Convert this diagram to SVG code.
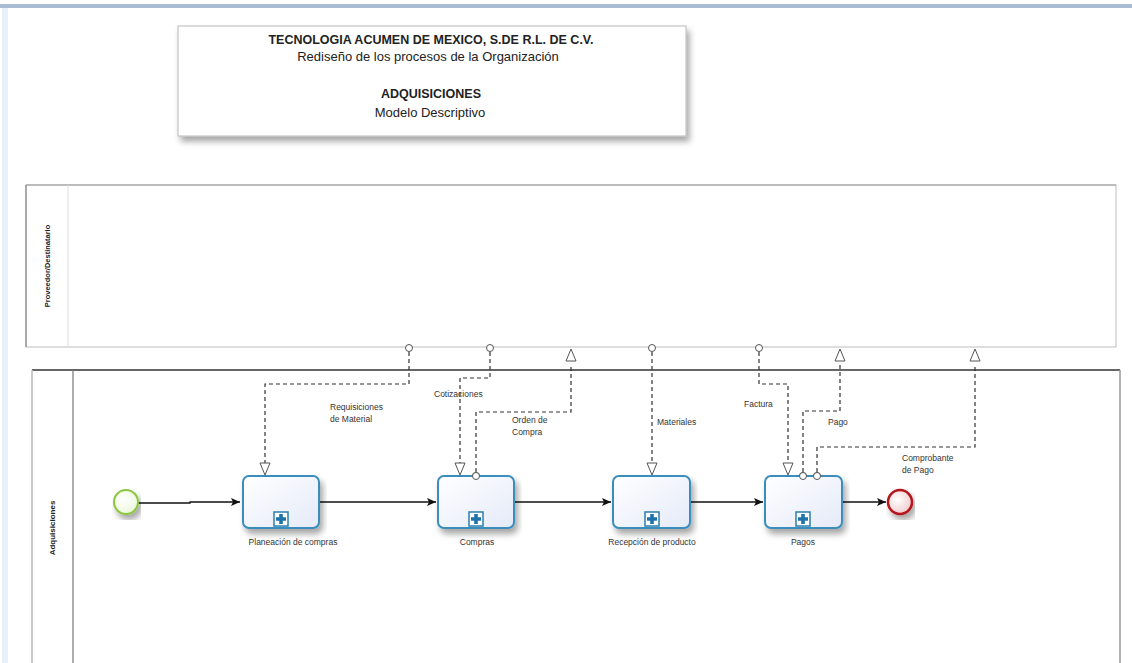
<svg xmlns="http://www.w3.org/2000/svg" width="1132" height="663" viewBox="0 0 1132 663">
<style>
.t{font-family:"Liberation Sans",Arial,sans-serif;fill:#222}
.s{font-family:"Liberation Sans",Arial,sans-serif;font-size:8.5px;fill:#333}
.task{fill:url(#tg);stroke:#3b8dbd;stroke-width:2}
.seq{fill:none;stroke:#111;stroke-width:1.3;marker-end:url(#ah)}
.msg{fill:none;stroke:#333;stroke-width:1.2;stroke-dasharray:4,3}
.circ{fill:#fff;stroke:#555;stroke-width:1}
.tri{fill:#fff;stroke:#555;stroke-width:1}
</style>
<defs>
<linearGradient id="tg" x1="0" y1="0" x2="1" y2="1"><stop offset="0" stop-color="#ffffff"/><stop offset="1" stop-color="#e4eaf8"/></linearGradient>
<radialGradient id="sg" cx="0.4" cy="0.4" r="0.7"><stop offset="0" stop-color="#ffffff"/><stop offset="1" stop-color="#eaf6d8"/></radialGradient>
<radialGradient id="eg" cx="0.4" cy="0.4" r="0.7"><stop offset="0" stop-color="#ffffff"/><stop offset="1" stop-color="#f0c6c8"/></radialGradient>
<marker id="ah" markerWidth="10" markerHeight="10" refX="9" refY="5" orient="auto" markerUnits="userSpaceOnUse"><path d="M0,1 L9,5 L0,9 L2,5 Z" fill="#111"/></marker>
<filter id="sh" x="-5%" y="-5%" width="115%" height="130%"><feDropShadow dx="3" dy="5" stdDeviation="3" flood-color="#000" flood-opacity="0.35"/></filter>
<g id="plus"><rect x="-7" y="-7" width="14" height="14" fill="#fff" stroke="#2a7fb0" stroke-width="1.5"/><path d="M-1.8,-5 h3.6 v3.2 h3.2 v3.6 h-3.2 v3.2 h-3.6 v-3.2 h-3.2 v-3.6 h3.2 z" fill="#1f73a8"/></g>
</defs>
<rect width="1132" height="663" fill="#fff"/>
<rect x="0" y="4" width="1132" height="4" fill="#aabbd4"/>
<rect x="2" y="8" width="6" height="655" fill="#eaf0f8"/>

<g id="title">
<rect x="178" y="26" width="508" height="110" fill="#fff" stroke="#b8b8b8" stroke-width="1" filter="url(#sh)"/>
<text class="t" x="431" y="44" text-anchor="middle" font-size="12.5" font-weight="bold">TECNOLOGIA ACUMEN DE MEXICO, S.DE R.L. DE C.V.</text>
<text class="t" x="428" y="61" text-anchor="middle" font-size="13">Rediseño de los procesos de la Organización</text>
<text class="t" x="431" y="98" text-anchor="middle" font-size="12.5" font-weight="bold">ADQUISICIONES</text>
<text class="t" x="430" y="117" text-anchor="middle" font-size="13">Modelo Descriptivo</text>
</g>

<g id="pool-proveedor">
<rect x="26" y="185" width="1090" height="162" fill="#fff" stroke="#bdbdbd" stroke-width="1"/>
<line x1="26" y1="185" x2="1116" y2="185" stroke="#999" stroke-width="1.2"/>
<line x1="26" y1="185" x2="26" y2="347" stroke="#888" stroke-width="1.2"/>
<line x1="68" y1="185" x2="68" y2="347" stroke="#ddd" stroke-width="1"/>
<text class="t" transform="translate(50,266) rotate(-90)" text-anchor="middle" font-size="7.5" font-weight="bold">Proveedor/Destinatario</text>
</g>

<g id="pool-adquisiciones">
<line x1="32" y1="370" x2="1120" y2="370" stroke="#333" stroke-width="1.5"/>
<line x1="32" y1="370" x2="32" y2="663" stroke="#bbb" stroke-width="1.5"/>
<line x1="73" y1="370" x2="73" y2="663" stroke="#777" stroke-width="1.2"/>
<line x1="1120" y1="370" x2="1120" y2="663" stroke="#999" stroke-width="1.5"/>
<text class="t" transform="translate(55,528) rotate(-90)" text-anchor="middle" font-size="8" font-weight="bold">Adquisiciones</text>
</g>

<g id="connectors">
<path class="seq" d="M138,503 H190 V502 H240"/>
<path class="seq" d="M319,502 H436"/>
<path class="seq" d="M515,502 H611"/>
<path class="seq" d="M691,502 H763"/>
<path class="seq" d="M843,502 H886"/>

<path class="msg" d="M409,352 V384 H265 V466"/>
<circle class="circ" cx="409" cy="348" r="3.5"/>
<path class="tri" d="M260,463 L270,463 L265,475 Z"/>

<path class="msg" d="M490,352 V378 H460 V466"/>
<circle class="circ" cx="490" cy="348" r="3.5"/>
<path class="tri" d="M455,463 L465,463 L460,475 Z"/>

<path class="msg" d="M476,472 V412 H571 V364"/>
<circle class="circ" cx="476" cy="476" r="3.5"/>
<path class="tri" d="M566,361 L576,361 L571,349 Z"/>

<path class="msg" d="M652,352 V466"/>
<circle class="circ" cx="652" cy="348" r="3.5"/>
<path class="tri" d="M647,463 L657,463 L652,475 Z"/>

<path class="msg" d="M759,352 V384 H788 V466"/>
<circle class="circ" cx="759" cy="348" r="3.5"/>
<path class="tri" d="M783,463 L793,463 L788,475 Z"/>

<path class="msg" d="M803,472 V411 H840 V364"/>
<circle class="circ" cx="803" cy="476" r="3.5"/>
<path class="tri" d="M835,361 L845,361 L840,349 Z"/>

<path class="msg" d="M817,472 V447 H975 V364"/>
<circle class="circ" cx="817" cy="476" r="3.5"/>
<path class="tri" d="M970,361 L980,361 L975,349 Z"/>

<text class="s" x="330" y="410">Requisiciones</text>
<text class="s" x="330" y="422">de Material</text>
<text class="s" x="434" y="397">Cotizaciones</text>
<text class="s" x="512" y="423">Orden de</text>
<text class="s" x="512" y="435">Compra</text>
<text class="s" x="657" y="425">Materiales</text>
<text class="s" x="744" y="407">Factura</text>
<text class="s" x="828" y="425">Pago</text>
<text class="s" x="902" y="461">Comprobante</text>
<text class="s" x="902" y="473">de Pago</text>
</g>

<g id="start">
<circle cx="126" cy="502" r="12" fill="url(#sg)" stroke="#8cc63f" stroke-width="2" filter="url(#sh)"/>
</g>

<g id="task-planeacion">
<rect class="task" x="243" y="476" width="76" height="52" rx="6" filter="url(#sh)"/>
<use href="#plus" x="281" y="519"/>
<text class="s" x="293" y="545" text-anchor="middle">Planeación de compras</text>
</g>

<g id="task-compras">
<rect class="task" x="438" y="476" width="76" height="52" rx="6" filter="url(#sh)"/>
<use href="#plus" x="476" y="519"/>
<circle class="circ" cx="476" cy="476" r="3.5"/>
<text class="s" x="477" y="545" text-anchor="middle">Compras</text>
</g>

<g id="task-recepcion">
<rect class="task" x="613" y="476" width="77" height="52" rx="6" filter="url(#sh)"/>
<use href="#plus" x="652" y="519"/>
<text class="s" x="652" y="545" text-anchor="middle">Recepción de producto</text>
</g>

<g id="task-pagos">
<rect class="task" x="765" y="476" width="77" height="52" rx="6" filter="url(#sh)"/>
<use href="#plus" x="803" y="519"/>
<circle class="circ" cx="803" cy="476" r="3.5"/>
<circle class="circ" cx="817" cy="476" r="3.5"/>
<text class="s" x="803" y="545" text-anchor="middle">Pagos</text>
</g>

<g id="end">
<circle cx="900" cy="502" r="12" fill="url(#eg)" stroke="#b5121b" stroke-width="2.5" filter="url(#sh)"/>
</g>
</svg>
